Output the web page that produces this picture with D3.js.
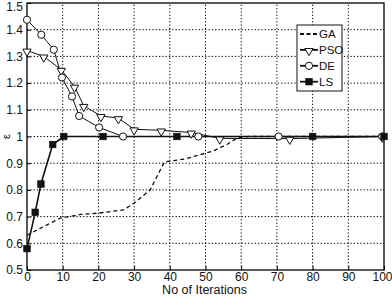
<!DOCTYPE html>
<html>
<head>
<meta charset="utf-8">
<script src="https://cdn.jsdelivr.net/npm/d3@7"></script>
<style>
  body { margin: 0; background: #fff; }
  text { font-family: "Liberation Sans Narrow", "Liberation Sans", Arial, sans-serif; fill: #111; }
</style>
</head>
<body>
<script>
let width = 392
let height = 297
let margin = {left: 27, right: 8, top: 3, bottom: 27}

// series
let gaX  = [0, 3.7, 9.3, 15, 20, 27, 30, 34.5, 38.5, 44, 48, 52, 56, 59, 62, 100]
let gaY  = [0.63, 0.656, 0.694, 0.708, 0.713, 0.725, 0.75, 0.80, 0.905, 0.915, 0.93, 0.945, 0.97, 0.995, 1.0, 1.0]
let psoX = [0, 4.7, 9.6, 13.3, 15.9, 20.7, 25.6, 30, 37.6, 46, 54, 73.6, 99.5]
let psoY = [1.322, 1.30, 1.25, 1.187, 1.115, 1.077, 1.069, 1.027, 1.023, 1.015, 0.993, 0.992, 1.0]
let deX  = [0, 4, 7.5, 9.8, 12.6, 14.6, 20.2, 26.9, 48, 70.5, 99.5]
let deY  = [1.437, 1.381, 1.325, 1.221, 1.15, 1.077, 1.034, 1.0, 1.0, 1.0, 1.0]
let lsX  = [0, 2.3, 3.9, 7.2, 10.3, 21.3, 42, 80, 100]
let lsY  = [0.58, 0.716, 0.822, 0.97, 1.0, 1.0, 1.0, 1.0, 1.0]

let xTicks = [0, 10, 20, 30, 40, 50, 60, 70, 80, 90, 100]
let yTicks = [0.5, 0.6, 0.7, 0.8, 0.9, 1, 1.1, 1.2, 1.3, 1.4, 1.5]
let legendNames = ['GA', 'PSO', 'DE', 'LS']

let svg = d3.select('body').append('svg')
  .attr('width', width)
  .attr('height', height)

let scaleX = d3.scaleLinear().domain([0, 100]).range([margin.left, width - margin.right])
let scaleY = d3.scaleLinear().domain([0.5, 1.5]).range([height - margin.bottom, margin.top])

// grid
svg.append('g').selectAll('line').data(xTicks.slice(1, -1)).enter().append('line')
  .attr('x1', d => scaleX(d)).attr('x2', d => scaleX(d))
  .attr('y1', scaleY(0.5)).attr('y2', scaleY(1.5))
  .attr('stroke', '#000').attr('stroke-width', 1).attr('stroke-dasharray', '1.3,2')
svg.append('g').selectAll('line').data(yTicks.slice(1, -1)).enter().append('line')
  .attr('y1', d => scaleY(d)).attr('y2', d => scaleY(d))
  .attr('x1', scaleX(0)).attr('x2', scaleX(100))
  .attr('stroke', '#000').attr('stroke-width', 1).attr('stroke-dasharray', '1.3,2')

// axes
let xAxis = d3.axisBottom(scaleX).tickValues(xTicks).tickSize(-4).tickPadding(2).tickFormat(d3.format('d'))
let yAxis = d3.axisLeft(scaleY).tickValues(yTicks).tickSize(-4).tickPadding(5).tickFormat(d => d === 1 ? '1' : d3.format('.1f')(d))
let gx = svg.append('g').attr('transform', 'translate(0,' + scaleY(0.5) + ')').call(xAxis)
let gy = svg.append('g').attr('transform', 'translate(' + scaleX(0) + ',0)').call(yAxis)
gx.select('.domain').remove()
gy.select('.domain').remove()
svg.selectAll('.tick text').attr('font-size', 12).style('font-family', '"Liberation Sans Narrow", "Liberation Sans", Arial, sans-serif')
gy.selectAll('.tick text').attr('x', -4)
// keep the edge labels inside the window
gx.selectAll('.tick text').filter(d => d === 100).attr('text-anchor', 'end').attr('dx', 8)
gy.selectAll('.tick text').filter(d => d === 1.5).attr('dy', '0.62em')

// box
svg.append('rect')
  .attr('x', scaleX(0)).attr('y', scaleY(1.5))
  .attr('width', scaleX(100) - scaleX(0)).attr('height', scaleY(0.5) - scaleY(1.5))
  .attr('fill', 'none').attr('stroke', '#000').attr('stroke-width', 1.3)

let line = d3.line().x(d => scaleX(d[0])).y(d => scaleY(d[1]))
let zip = (xs, ys) => xs.map((x, i) => [x, ys[i]])

let gaData = zip(gaX, gaY)
let psoData = zip(psoX, psoY)
let deData = zip(deX, deY)
let lsData = zip(lsX, lsY)

svg.append('path').datum(gaData).attr('d', line)
  .attr('fill', 'none').attr('stroke', '#111').attr('stroke-width', 1.3).attr('stroke-dasharray', '4,3')
svg.append('path').datum(psoData).attr('d', line)
  .attr('fill', 'none').attr('stroke', '#111').attr('stroke-width', 1)
svg.append('path').datum(deData).attr('d', line)
  .attr('fill', 'none').attr('stroke', '#111').attr('stroke-width', 1)
svg.append('path').datum(lsData).attr('d', line)
  .attr('fill', 'none').attr('stroke', '#111').attr('stroke-width', 1.6)

let tri = d3.symbol().type(d3.symbolTriangle).size(30)
function drawTri(g, x, y) {
  g.append('path').attr('d', tri())
    .attr('transform', 'translate(' + x + ',' + y + ') rotate(180)')
    .attr('fill', '#fff').attr('stroke', '#111').attr('stroke-width', 1)
}
function drawCircle(g, x, y) {
  g.append('circle').attr('cx', x).attr('cy', y).attr('r', 3.6)
    .attr('fill', '#fff').attr('stroke', '#111').attr('stroke-width', 1)
}
function drawSquare(g, x, y) {
  g.append('rect').attr('x', x - 3.3).attr('y', y - 3.3).attr('width', 6.6).attr('height', 6.6)
    .attr('fill', '#111').attr('stroke', '#111').attr('stroke-width', 0.6)
}

let marks = svg.append('g')
psoData.forEach(d => drawTri(marks, scaleX(d[0]), scaleY(d[1]) + 1))
deData.forEach(d => drawCircle(marks, scaleX(d[0]), scaleY(d[1])))
lsData.forEach(d => drawSquare(marks, scaleX(d[0]), scaleY(d[1])))

// legend
let lg = svg.append('g')
lg.append('rect').attr('x', 297).attr('y', 25).attr('width', 45).attr('height', 66)
  .attr('fill', '#fff').attr('stroke', '#111').attr('stroke-width', 1)
legendNames.forEach((name, i) => {
  let y = 34 + i * 15.9
  let l = lg.append('line').attr('x1', 300).attr('x2', 318).attr('y1', y).attr('y2', y)
    .attr('stroke', '#111').attr('stroke-width', 1.8)
  if (i === 0) l.attr('stroke-dasharray', '4,2.5').attr('stroke-width', 2.2)
  if (i === 1) drawTri(lg, 309, y + 1)
  if (i === 2) drawCircle(lg, 309, y)
  if (i === 3) drawSquare(lg, 309, y)
  lg.append('text').attr('x', 319).attr('y', y + 4).attr('font-size', 11.5).text(name)
})

// axis labels
svg.append('text').attr('x', (scaleX(0) + scaleX(100)) / 2 - 1).attr('y', 294)
  .attr('text-anchor', 'middle').attr('font-size', 12.5).text('No of Iterations')
svg.append('text').attr('transform', 'translate(6,' + scaleY(1) + ') rotate(-90)')
  .attr('text-anchor', 'middle').attr('dy', '0.35em').attr('font-size', 11).text('ε')
</script>
</body>
</html>
